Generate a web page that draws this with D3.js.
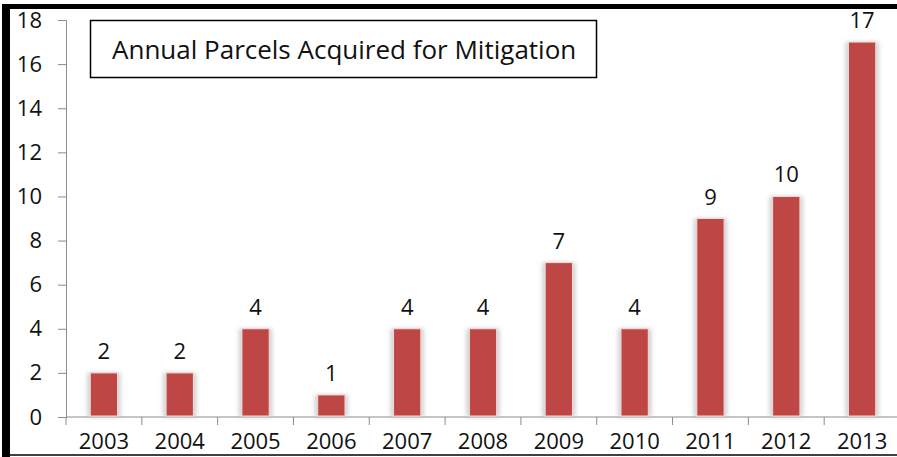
<!DOCTYPE html>
<meta charset="utf-8">
<script src="https://d3js.org/d3.v7.min.js"></script>
<style>
  body { margin: 0; background: #fff; }
  text { font-family: "Open Sans", sans-serif; fill: #111; }
</style>
<svg id="chart" width="897" height="457"></svg>

<script>
    // data
    var years = ["2003", "2004", "2005", "2006", "2007", "2008", "2009", "2010", "2011", "2012", "2013"];
    var parcels = [2, 2, 4, 1, 4, 4, 7, 4, 9, 10, 17];
    var yTicks = [0, 2, 4, 6, 8, 10, 12, 14, 16, 18];
    var title = "Annual Parcels Acquired for Mitigation";

    var svg = d3.select("#chart");

    var defs = svg.append("defs");
    defs.append("filter").attr("id", "glow")
        .attr("x", "-50%").attr("y", "-10%").attr("width", "200%").attr("height", "120%")
        .append("feGaussianBlur").attr("stdDeviation", 2);

    var x = d3.scaleBand().domain(years).range([66, 900]).paddingInner(0.64).paddingOuter(0.32);
    var y = d3.scaleLinear().domain([0, 18]).range([417, 20]);

    // frame
    svg.append("rect").attr("x", 2).attr("y", 4).attr("width", 8).attr("height", 453).attr("fill", "#000");
    svg.append("rect").attr("x", 2).attr("y", 4).attr("width", 895).attr("height", 5).attr("fill", "#000");
    svg.append("line").attr("x1", 10).attr("x2", 897).attr("y1", 455).attr("y2", 455)
        .attr("stroke", "#000").attr("stroke-width", 1.5);

    // y axis
    var yAxis = svg.append("g").attr("transform", "translate(66,0)")
        .call(d3.axisLeft(y).tickValues(yTicks).tickSize(8).tickPadding(16));
    yAxis.select(".domain").attr("stroke", "#8c8c8c");
    yAxis.selectAll(".tick line").attr("stroke", "#8c8c8c");
    yAxis.selectAll("text").attr("font-size", 22).attr("fill", "#111");

    // x axis: ticks between categories
    var xAxisG = svg.append("g").attr("transform", "translate(0,417)");
    xAxisG.append("line").attr("x1", 66).attr("x2", 900).attr("stroke", "#8c8c8c");
    var step = x.step();
    xAxisG.selectAll(".tk").data(d3.range(years.length + 1)).enter().append("line")
        .attr("x1", i => 66 + i * step).attr("x2", i => 66 + i * step)
        .attr("y1", 0).attr("y2", 8).attr("stroke", "#8c8c8c");
    xAxisG.selectAll(".lbl").data(years).enter().append("text")
        .attr("x", d => x(d) + x.bandwidth() / 2).attr("y", 32)
        .attr("text-anchor", "middle").attr("font-size", 22).text(d => d);

    // bars
    var bars = svg.append("g");
    bars.selectAll(".shadow").data(parcels).enter().append("rect")
        .attr("x", (d, i) => x(years[i]) - 3).attr("width", x.bandwidth() + 6)
        .attr("y", d => y(d)).attr("height", d => y(0) - y(d))
        .attr("fill", "#bdbdbd").attr("filter", "url(#glow)").attr("opacity", 0.7);
    bars.selectAll(".bar").data(parcels).enter().append("rect")
        .attr("x", (d, i) => x(years[i])).attr("width", x.bandwidth())
        .attr("y", d => y(d)).attr("height", d => y(0) - y(d) - 1)
        .attr("fill", "#be4644").attr("stroke", "#f2dcdb").attr("stroke-width", 1);

    // data labels
    svg.selectAll(".val").data(parcels).enter().append("text")
        .attr("x", (d, i) => x(years[i]) + x.bandwidth() / 2).attr("y", d => y(d) - 14)
        .attr("text-anchor", "middle").attr("font-size", 22).text(d => d);

    // title box
    svg.append("rect").attr("x", 90.5).attr("y", 20.5).attr("width", 506).attr("height", 57)
        .attr("fill", "#fff").attr("stroke", "#000").attr("stroke-width", 1.5);
    svg.append("text").attr("x", 112).attr("y", 59).attr("font-size", 26).text(title);
</script>
